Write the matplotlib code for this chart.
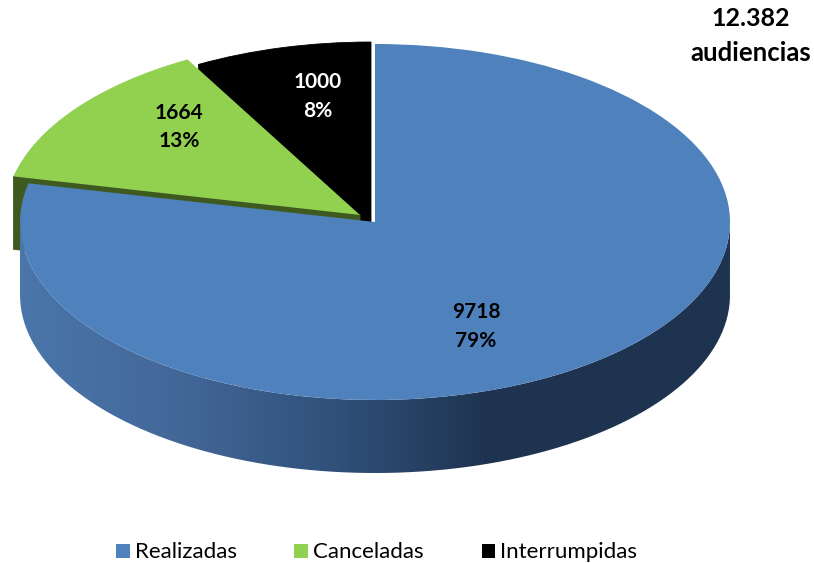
import numpy as np
import matplotlib
matplotlib.use("Agg")
import matplotlib.pyplot as plt
from matplotlib.colors import LinearSegmentedColormap
from matplotlib.patches import PathPatch, Polygon
from matplotlib.path import Path

categories = ["Realizadas", "Canceladas", "Interrumpidas"]
values = [9718, 1664, 1000]
percents = ["79%", "13%", "8%"]
total_label = "12.382\naudiencias"
colors = ["#4f81bd", "#92d050", "#000000"]

W, H = 814, 563
CX, CY, RX, RY = 375.0, 222.0, 355.0, 178.0
DEPTH = 73.0 / RY
plt.rcParams["font.family"] = ["Lato", "DejaVu Sans"]


def px(x):
    return (x - CX) / RX


def py(y):
    return (CY - y) / RY


fig = plt.figure(figsize=(W / 100, H / 100), dpi=100)
ax = fig.add_axes([0, 0, 1, 1])
wedges, _ = ax.pie(values, colors=colors, startangle=90, counterclock=False,
                   wedgeprops={"linewidth": 0, "zorder": 5})
ax.set_aspect("auto")
ax.set_xlim(px(0), px(W))
ax.set_ylim(py(H), py(0))
ax.axis("off")

# pulled-out slices
green_c = (px(360), py(215))
black_c = (px(371), py(220))
wedges[1].set_center(green_c)
wedges[2].set_center(black_c)
wedges[1].set_zorder(5.5)
wedges[2].set_edgecolor("#000000")
wedges[2].set_linewidth(0.6)


def cut_face(wedge, center, color, z):
    a = np.deg2rad(wedge.theta2)
    rim = (center[0] + np.cos(a), center[1] + np.sin(a))
    ax.add_patch(Polygon([center, rim, (rim[0], rim[1] - DEPTH),
                          (center[0], center[1] - DEPTH)],
                         closed=True, facecolor=color, edgecolor=color,
                         linewidth=0.6, zorder=z))


cut_face(wedges[2], black_c, "#000000", 1)
cut_face(wedges[1], green_c, "#3f5a1f", 1.5)

# curved wall of the blue slice, shaded from left to right
t = np.linspace(np.pi, 2 * np.pi, 200)
top = np.column_stack([np.cos(t), np.sin(t)])
bot = top[::-1] - [0, DEPTH]
wall_path = Path(np.vstack([top, bot, top[:1]]), closed=False)
clip = PathPatch(wall_path, facecolor="none", edgecolor="none", transform=ax.transData)
ax.add_patch(clip)
cmap = LinearSegmentedColormap.from_list(
    "wall", [(0, "#4a76aa"), (0.2, "#44699a"), (0.45, "#30507a"), (0.66, "#1e3350"), (1, "#1e3350")])
im = ax.imshow(np.linspace(0, 1, 512)[None, :], cmap=cmap, aspect="auto",
               extent=(-1, 1, -1 - DEPTH, 1), zorder=2)
im.set_clip_path(clip)
ax.set_xlim(px(0), px(W))
ax.set_ylim(py(H), py(0))

# slice labels
label_style = dict(ha="center", va="center", fontweight="bold", zorder=10)
label_pos = [(476, 312, 341, "black"), (179, 113, 141, "black"), (318, 82, 111, "white")]
for v, p, (x, y1, y2, col) in zip(values, percents, label_pos):
    ax.text(px(x), py(y1), str(v), color=col, fontsize=15, **label_style)
    ax.text(px(x), py(y2), p, color=col, fontsize=15, **label_style)

first, second = total_label.split("\n")
ax.text(px(751), py(19), first, color="black", fontsize=18, **label_style)
ax.text(px(751), py(53), second, color="black", fontsize=18.5, **label_style)

leg = ax.legend(wedges, categories, ncol=3, loc="center left", frameon=False,
                bbox_to_anchor=(116 / W, 1 - 552.5 / H), bbox_transform=fig.transFigure,
                fontsize=16, handlelength=0.62, handleheight=0.6, handletextpad=0.22,
                columnspacing=2.6, borderpad=0, borderaxespad=0)
for h in leg.legend_handles:
    h.set_linewidth(0)
fig.savefig("out.png", dpi=100, facecolor="white")
